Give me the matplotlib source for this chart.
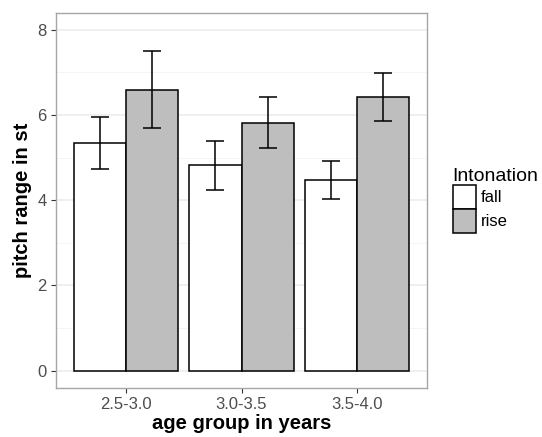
import numpy as np
import matplotlib
matplotlib.use("Agg")
import matplotlib.pyplot as plt
from matplotlib.patches import Patch

# data
groups = ["2.5-3.0", "3.0-3.5", "3.5-4.0"]
fall_mean = [5.34, 4.83, 4.48]
fall_lo = [4.74, 4.23, 4.03]
fall_hi = [5.95, 5.40, 4.92]
rise_mean = [6.60, 5.82, 6.42]
rise_lo = [5.69, 5.23, 5.85]
rise_hi = [7.51, 6.42, 6.98]

plt.rcParams['font.family'] = ['Liberation Sans', 'DejaVu Sans']

fig = plt.figure(figsize=(5.42, 4.37), dpi=100)
ax = fig.add_axes([0.1039, 0.1128, 0.6834, 0.8568])

x = np.arange(1, len(groups) + 1)
w = 0.45

# grid like theme_light
for v in [1, 3, 5, 7]:
    ax.axhline(v, color='#F2F2F2', lw=0.6, zorder=0)
for v in [0, 2, 4, 6, 8]:
    ax.axhline(v, color='#EBEBEB', lw=1.1, zorder=0)

ax.bar(x - w / 2, fall_mean, width=w, color='white', edgecolor='black', lw=1.1, zorder=2)
ax.bar(x + w / 2, rise_mean, width=w, color='#BEBEBE', edgecolor='black', lw=1.1, zorder=2)

for xs, m, lo, hi in [(x - w / 2, fall_mean, fall_lo, fall_hi), (x + w / 2, rise_mean, rise_lo, rise_hi)]:
    m = np.array(m)
    ax.errorbar(xs, m, yerr=[m - np.array(lo), np.array(hi) - m], fmt='none',
                ecolor='black', elinewidth=1.1, capsize=6.5, capthick=1.1, zorder=3)

ax.set_xlim(0.4, 3.6)
ax.set_ylim(-0.4, 8.39)
ax.set_xticks(x)
ax.set_xticklabels(groups)
ax.set_yticks([0, 2, 4, 6, 8])
ax.tick_params(colors='#333333', labelcolor='#4D4D4D', labelsize=12, length=3.5, width=0.8)
for s in ax.spines.values():
    s.set_color('#A6A6A6')
    s.set_linewidth(1.0)

ax.set_xlabel("age group in years", fontsize=14.5, fontweight='bold', labelpad=1)
ax.set_ylabel("pitch range in st", fontsize=14.5, fontweight='bold', labelpad=4)

handles = [Patch(facecolor='white', edgecolor='black', lw=1.1, label='fall'),
           Patch(facecolor='#BEBEBE', edgecolor='black', lw=1.1, label='rise')]
leg = fig.legend(handles=handles, title='Intonation', loc='upper left',
                 bbox_to_anchor=(0.8195, 0.635), frameon=False, fontsize=12,
                 title_fontsize=14, handlelength=1.4, handleheight=1.85,
                 handletextpad=0.3, labelspacing=0.0, borderpad=0)
leg._legend_box.align = 'left'

fig.savefig('out.png', dpi=100)
